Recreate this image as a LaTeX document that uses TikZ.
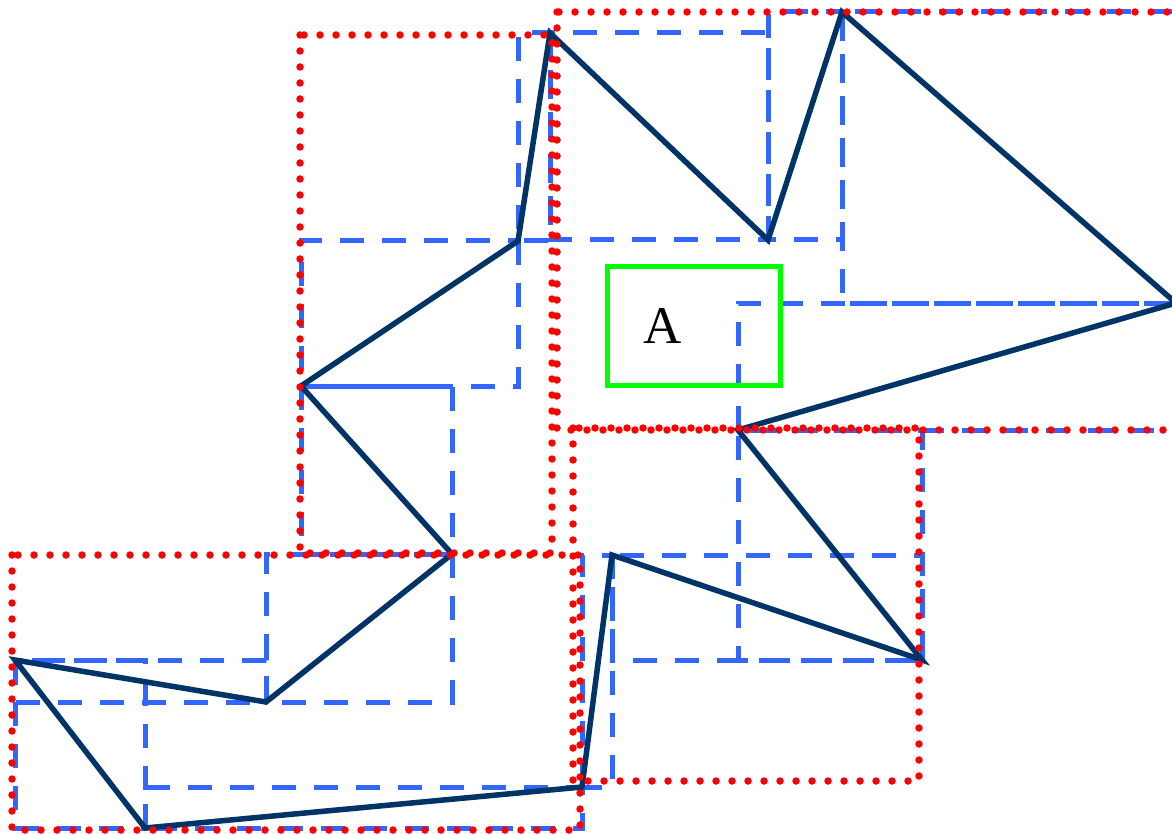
\documentclass[tikz,border=0pt]{standalone}
\usepackage{fontspec}
\newfontfamily\boxfont{Liberation Serif}
\usepackage{xcolor}
\definecolor{cadenaAzul}{HTML}{003366}
\definecolor{mbrAzul}{HTML}{3366FF}
\definecolor{grupoRojo}{HTML}{FF0000}
\definecolor{consultaVerde}{HTML}{00FF00}
\usepackage{tikz}
\usetikzlibrary{calc}

\begin{document}
\begin{tikzpicture}[x=1pt,y=-1pt,
  mbr/.style={draw=mbrAzul,line width=5pt,dash pattern=on 24pt off 18pt},
  grupo/.style={draw=grupoRojo,line width=7.5pt,line cap=round,
    dash pattern=on 0pt off 16pt},
  cadena/.style={draw=cadenaAzul,line width=5.5pt},
  consulta/.style={draw=consultaVerde,line width=5pt,anchor=west,
    minimum height=118pt,text width=101pt,inner xsep=36pt,inner ysep=0pt,
    align=left,font=\boxfont\fontsize{53}{60}\selectfont}]
  \useasboundingbox (0,0) rectangle (1172,834);
  \coordinate (p1) at (15,660);
  \coordinate (p2) at (145,828);
  \coordinate (p3) at (582,787);
  \coordinate (p4) at (612,555);
  \coordinate (p5) at (922,660);
  \coordinate (p6) at (738,430);
  \coordinate (p7) at (1176,303);
  \coordinate (p8) at (842,12);
  \coordinate (p9) at (768,240);
  \coordinate (p10) at (550,33);
  \coordinate (p11) at (518,241);
  \coordinate (p12) at (301,386);
  \coordinate (p13) at (452,554);
  \coordinate (p14) at (266,702);
  \draw[mbr] (p1) rectangle (p2);
  \draw[mbr] (p2) rectangle (p3);
  \draw[mbr] (p3) rectangle (p4);
  \draw[mbr] (p4) rectangle (p5);
  \draw[mbr] (p5) rectangle (p6);
  \draw[mbr] (p6) rectangle (p7);
  \draw[mbr] (p7) rectangle (p8);
  \draw[mbr] (p8) rectangle (p9);
  \draw[mbr] (p9) rectangle (p10);
  \draw[mbr] (p10) rectangle (p11);
  \draw[mbr] (p11) rectangle (p12);
  \draw[mbr] (p12) rectangle (p13);
  \draw[mbr] (p13) rectangle (p14);
  \draw[mbr] (p14) rectangle (p1);
  \draw[cadena] (p1)--(p2)--(p3)--(p4)--(p5)--(p6)--(p7)--(p8)--(p9)
    --(p10)--(p11)--(p12)--(p13)--(p14)--cycle;
  \draw[grupo] (300,35) rectangle (552,553);
  \draw[grupo] (557,12) rectangle (1180,430);
  \draw[grupo] (573,428) rectangle (919,781);
  \draw[grupo] (12,555) rectangle (580,830);
  \node[consulta] (regA) at (605,326) {A};
\end{tikzpicture}
\end{document}
